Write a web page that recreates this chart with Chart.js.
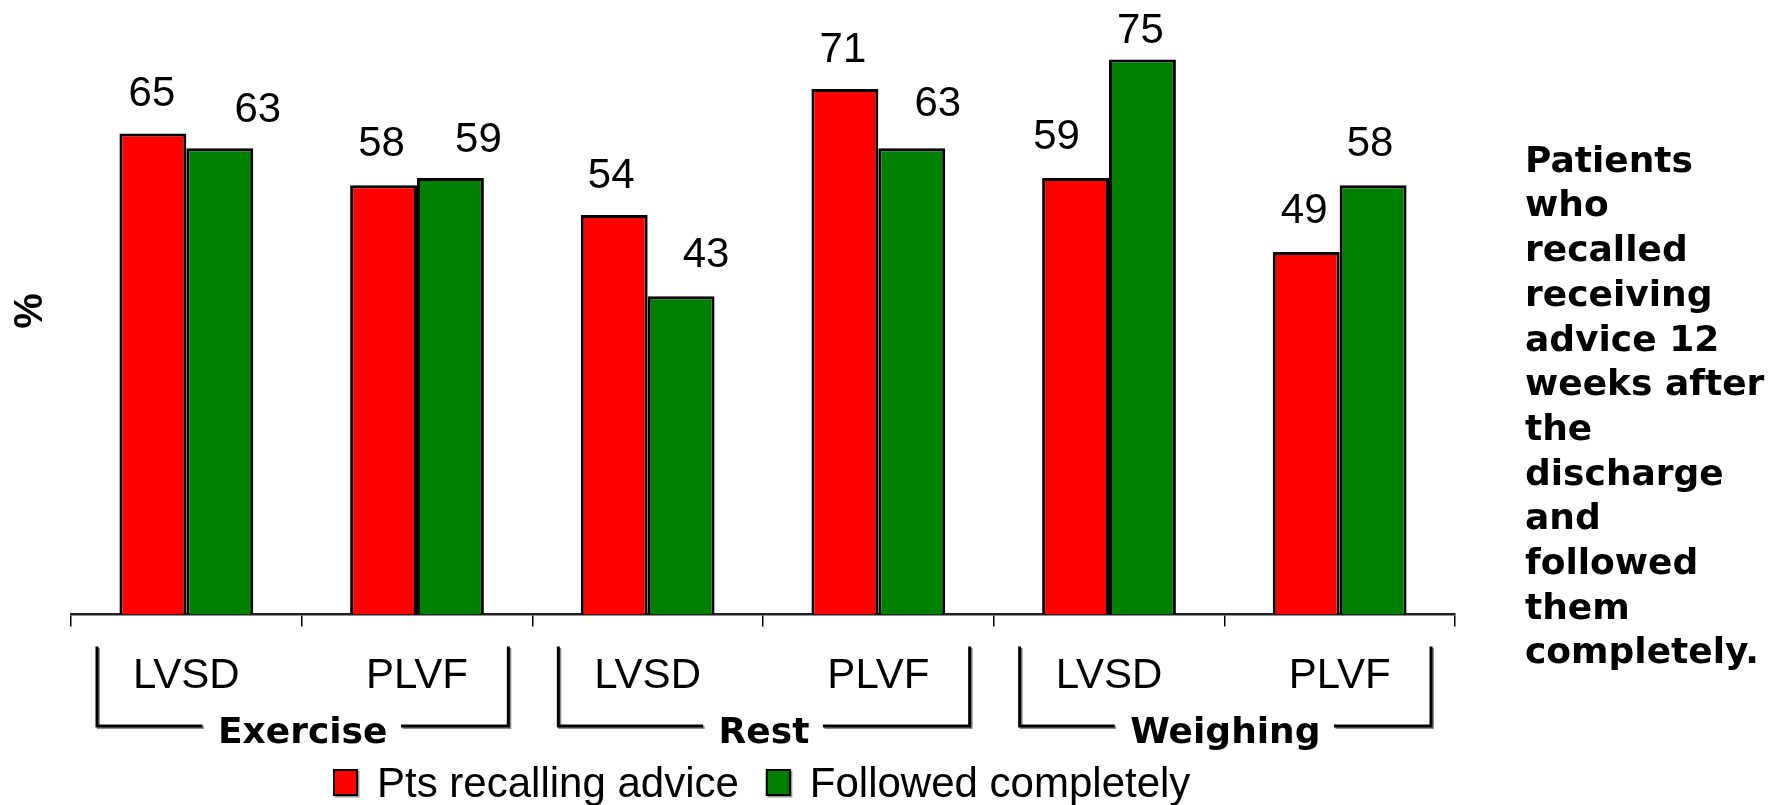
<!DOCTYPE html>
<html>
<head>
<meta charset="utf-8">
<script src="https://cdn.jsdelivr.net/npm/chart.js@4"></script>
<style>
  html, body { margin: 0; padding: 0; background: #ffffff; }
  #c { display: block; }
</style>
</head>
<body>
<canvas id="c" width="1771" height="805"></canvas>
<script>
// Sub-categories (heart-failure type) and the advice groups they belong to
const categories = ['LVSD', 'PLVF', 'LVSD', 'PLVF', 'LVSD', 'PLVF'];
const groups = ['Exercise', 'Rest', 'Weighing'];

// Percentages per sub-category
const recalledAdvice = [65, 58, 54, 71, 59, 49];
const followedCompletely = [63, 59, 43, 63, 75, 58];
const seriesNames = ['Pts recalling advice', 'Followed completely'];

// Side note, one entry per line
const sideNote = ['Patients', 'who', 'recalled', 'receiving', 'advice 12', 'weeks after',
                  'the', 'discharge', 'and', 'followed', 'them', 'completely.'];

// Hand-placed value labels: horizontal shift and gap above the bar (px)
const recalledLabelShift = [-1, -2, -3, -2, -19, -2];
const followedLabelShift = [38, 28, 25, 26, -2, -3];
const recalledLabelGap = [28, 29, 27, 27, 29, 29];
const followedLabelGap = [26, 26, 29, 32, 17, 29];

const RED = '#FF0000';
const GREEN = '#008000';
const SANS = '"Liberation Sans", Arial, sans-serif';
const VERDANA = '"DejaVu Sans", Verdana, sans-serif';

const AXIS_Y = 614.5;

const decorations = {
  id: 'decorations',
  afterDatasetsDraw(chart) {
    const ctx = chart.ctx;
    const shifts = [recalledLabelShift, followedLabelShift];
    const gaps = [recalledLabelGap, followedLabelGap];
    ctx.save();
    ctx.font = '42px ' + SANS;
    ctx.fillStyle = '#000';
    ctx.textAlign = 'center';
    ctx.textBaseline = 'alphabetic';
    chart.data.datasets.forEach((ds, di) => {
      const meta = chart.getDatasetMeta(di);
      meta.data.forEach((bar, i) => {
        ctx.fillText(String(ds.data[i]), bar.x + shifts[di][i], bar.y - gaps[di][i]);
      });
    });
    ctx.restore();
  },
  afterDraw(chart) {
    const ctx = chart.ctx;
    const x = chart.scales.x;
    ctx.save();

    // y axis title
    ctx.save();
    ctx.translate(31, 311);
    ctx.rotate(-Math.PI / 2);
    ctx.font = 'bold 40px ' + SANS;
    ctx.fillStyle = '#000';
    ctx.textAlign = 'center';
    ctx.textBaseline = 'middle';
    ctx.fillText('%', 0, 0);
    ctx.restore();

    // group brackets under the sub-category labels
    const half = (x.getPixelForValue(1) - x.getPixelForValue(0)) / 2;
    const top = 648, bottom = 726;
    ctx.font = 'bold 36px ' + VERDANA;
    ctx.textAlign = 'center';
    ctx.textBaseline = 'alphabetic';
    groups.forEach((g, gi) => {
      const left = x.getPixelForValue(gi * 2) - half + 26;
      const right = x.getPixelForValue(gi * 2 + 1) + half - 24;
      const mid = (left + right) / 2;
      const tw = ctx.measureText(g).width;
      const gapL = mid - tw / 2 - 17;
      const gapR = mid + tw / 2 + 15;
      const path = (dx, dy) => {
        ctx.beginPath();
        ctx.moveTo(left + dx, top + dy);
        ctx.lineTo(left + dx, bottom + dy);
        ctx.lineTo(gapL + dx, bottom + dy);
        ctx.moveTo(gapR + dx, bottom + dy);
        ctx.lineTo(right + dx, bottom + dy);
        ctx.lineTo(right + dx, top + dy);
        ctx.stroke();
      };
      ctx.lineWidth = 3;
      ctx.lineCap = 'square';
      ctx.strokeStyle = '#8c8c8c';
      path(1.5, 1.5);
      ctx.strokeStyle = '#000';
      path(0, 0);
      ctx.fillStyle = '#000';
      ctx.fillText(g, mid, 743);
    });

    // legend
    ctx.font = '42px ' + SANS;
    ctx.textAlign = 'left';
    ctx.textBaseline = 'alphabetic';
    let lx = 333;
    [RED, GREEN].forEach((col, i) => {
      ctx.fillStyle = '#9a9a9a';
      ctx.fillRect(lx + 1.5, 770.5, 25, 27);
      ctx.fillStyle = col;
      ctx.fillRect(lx, 769, 25, 27);
      ctx.lineWidth = 2;
      ctx.strokeStyle = '#000';
      ctx.strokeRect(lx + 1, 770, 23, 25);
      ctx.fillStyle = '#000';
      ctx.fillText(seriesNames[i], lx + 44, 796.5);
      lx += 44 + ctx.measureText(seriesNames[i]).width + 27;
    });

    // side note
    ctx.font = 'bold 36px ' + VERDANA;
    ctx.fillStyle = '#000';
    sideNote.forEach((line, i) => {
      ctx.fillText(line, 1525, 171.7 + i * 44.7);
    });

    ctx.restore();
  }
};

new Chart(document.getElementById('c'), {
  type: 'bar',
  data: {
    labels: categories,
    datasets: [
      {
        label: seriesNames[0],
        data: recalledAdvice,
        backgroundColor: RED,
        borderColor: '#000',
        borderWidth: 3
      },
      {
        label: seriesNames[1],
        data: followedCompletely,
        backgroundColor: GREEN,
        borderColor: '#000',
        borderWidth: 3
      }
    ]
  },
  options: {
    responsive: false,
    animation: false,
    devicePixelRatio: 1,
    barPercentage: 1,
    categoryPercentage: 0.58,
    layout: { padding: { left: 71, right: 316, top: 22.5, bottom: 0 } },
    plugins: {
      legend: { display: false },
      tooltip: { enabled: false }
    },
    scales: {
      y: { display: false, min: 0, max: 80 },
      x: {
        offset: true,
        grid: {
          offset: true,
          drawOnChartArea: false,
          drawTicks: true,
          tickLength: 12,
          color: '#000',
          lineWidth: 1.5
        },
        border: { display: true, color: '#222', width: 2.5 },
        ticks: {
          font: { family: SANS, size: 42 },
          color: '#000',
          padding: 25,
          maxRotation: 0,
          autoSkip: false
        },
        afterFit(scale) { scale.height = 805 - AXIS_Y; }
      }
    }
  },
  plugins: [decorations]
});
</script>
</body>
</html>
